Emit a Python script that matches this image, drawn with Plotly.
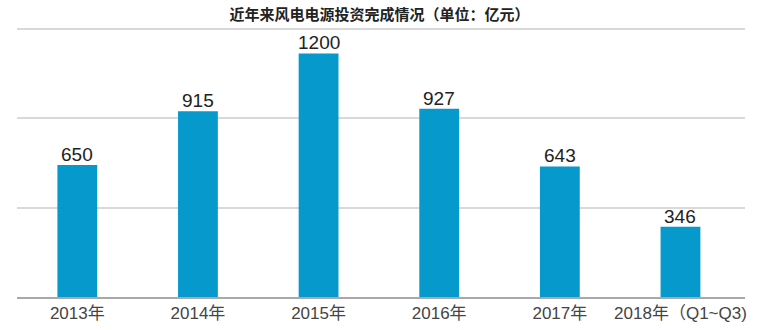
import plotly.graph_objects as go

categories = ["2013年", "2014年", "2015年", "2016年", "2017年", "2018年（Q1~Q3)"]
values = [650, 915, 1200, 927, 643, 346]
title_text = "近年来风电电源投资完成情况（单位：亿元）"

fig = go.Figure()
fig.add_trace(go.Bar(
    x=categories,
    y=values,
    marker=dict(color="#0599cc", line=dict(width=0)),
    cliponaxis=False,
    width=0.33,
))

for c, v in zip(categories, values):
    fig.add_annotation(
        x=c, y=v, xref="x", yref="y",
        text=str(v), showarrow=False,
        xanchor="center", yanchor="bottom", yshift=-2,
        font=dict(family="Liberation Sans, Arial, sans-serif", size=19, color="#222222"),
    )

fig.update_layout(
    width=759, height=330,
    margin=dict(l=17, r=14, t=25, b=33, autoexpand=False),
    paper_bgcolor="white", plot_bgcolor="white",
    showlegend=False,
    title=dict(text=title_text, x=0.5, xanchor="center", y=1 - 15 / 330, yanchor="middle",
               font=dict(family="Noto Sans CJK SC, sans-serif", size=15, color="#222222", weight="bold")),
    xaxis=dict(
        range=[-0.5, 5.535],
        automargin=False,
        showgrid=False,
        showline=True, linecolor="#a9a9a9", linewidth=2,
        ticks="", ticklabelstandoff=0,
        tickfont=dict(family="Liberation Sans, Noto Sans CJK SC, sans-serif", size=17, color="#444444"),
    ),
    yaxis=dict(
        range=[0, 1340],
        automargin=False,
        tickvals=[440, 880, 1320],
        showgrid=True, gridcolor="#d9d9d9", gridwidth=1.5,
        showticklabels=False,
        zeroline=False,
        showline=False,
    ),
)

fig.write_html("out.html")
